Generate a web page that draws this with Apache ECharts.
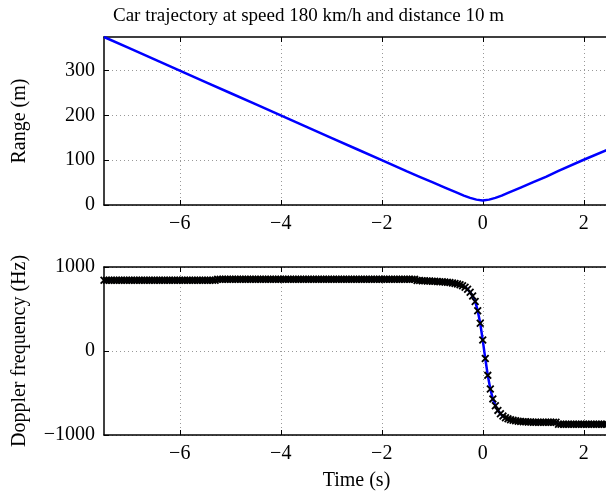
<!DOCTYPE html>
<html>
<head>
<meta charset="utf-8">
<script src="https://cdn.jsdelivr.net/npm/echarts@6/dist/echarts.min.js"></script>
<style>
html,body{margin:0;padding:0;background:#fff;}
#c{width:606px;height:495px;}
</style>
</head>
<body>
<div id="c"></div>
<script>
// ---- data ----
const titleText = 'Car trajectory at speed 180 km/h and distance 10 m';
const xTicks = [-6, -4, -2, 0, 2];
const rangeTicks = [0, 100, 200, 300];
const dopplerTicks = [-1000, 0, 1000];

const rangeTime = [-7.5,-7,-6.5,-6,-5.5,-5,-4.5,-4,-3.5,-3,-2.5,-2,-1.5,-1.25,-1,-0.75,-0.5,-0.375,-0.25,-0.125,0,0.125,0.25,0.375,0.5,0.75,1,1.25,1.5,2,2.5];
const rangeValues = [375,350,325,300,275,250,225,200,175,150,125,100,75,63,51,39,27,21,16,12,10,12,16,21,27,39,51,63,76,101,125];

const dopplerTime = [
-7.50,-7.45,-7.40,-7.35,-7.30,-7.25,-7.20,-7.15,-7.10,-7.05,
-7.00,-6.95,-6.90,-6.85,-6.80,-6.75,-6.70,-6.65,-6.60,-6.55,
-6.50,-6.45,-6.40,-6.35,-6.30,-6.25,-6.20,-6.15,-6.10,-6.05,
-6.00,-5.95,-5.90,-5.85,-5.80,-5.75,-5.70,-5.65,-5.60,-5.55,
-5.50,-5.45,-5.40,-5.35,-5.30,-5.25,-5.20,-5.15,-5.10,-5.05,
-5.00,-4.95,-4.90,-4.85,-4.80,-4.75,-4.70,-4.65,-4.60,-4.55,
-4.50,-4.45,-4.40,-4.35,-4.30,-4.25,-4.20,-4.15,-4.10,-4.05,
-4.00,-3.95,-3.90,-3.85,-3.80,-3.75,-3.70,-3.65,-3.60,-3.55,
-3.50,-3.45,-3.40,-3.35,-3.30,-3.25,-3.20,-3.15,-3.10,-3.05,
-3.00,-2.95,-2.90,-2.85,-2.80,-2.75,-2.70,-2.65,-2.60,-2.55,
-2.50,-2.45,-2.40,-2.35,-2.30,-2.25,-2.20,-2.15,-2.10,-2.05,
-2.00,-1.95,-1.90,-1.85,-1.80,-1.75,-1.70,-1.65,-1.60,-1.55,
-1.50,-1.45,-1.40,-1.35,-1.30,-1.25,-1.20,-1.15,-1.10,-1.05,
-1.00,-0.95,-0.90,-0.85,-0.80,-0.75,-0.70,-0.65,-0.60,-0.55,
-0.50,-0.45,-0.40,-0.35,-0.30,-0.25,-0.20,-0.15,-0.10,-0.05,
0.00,0.05,0.10,0.15,0.20,0.25,0.30,0.35,0.40,0.45,
0.50,0.55,0.60,0.65,0.70,0.75,0.80,0.85,0.90,0.95,
1.00,1.05,1.10,1.15,1.20,1.25,1.30,1.35,1.40,1.45,
1.50,1.55,1.60,1.65,1.70,1.75,1.80,1.85,1.90,1.95,
2.00,2.05,2.10,2.15,2.20,2.25,2.30,2.35,2.40,2.45,
2.50];
const dopplerValues = [
842,842,842,842,842,842,842,842,842,842,
842,842,842,842,842,842,842,842,842,842,
842,842,842,842,842,842,842,842,842,842,
842,842,842,842,842,842,842,842,842,842,
842,842,842,842,842,853,853,853,853,853,
853,853,853,853,853,853,853,853,853,853,
853,853,853,853,853,853,853,853,853,853,
853,853,853,853,853,853,853,853,853,853,
853,853,853,853,853,853,853,853,853,853,
853,853,853,853,853,853,853,853,853,853,
853,853,853,853,853,853,853,853,853,853,
853,853,853,853,853,853,853,853,853,853,
853,853,853,853,840,838,836,835,833,832,
831,829,827,825,823,820,817,814,810,805,
798,789,777,760,735,700,655,590,480,330,
130,-90,-290,-453,-570,-651,-707,-746,-775,-794,
-808,-818,-825,-830,-835,-838,-841,-843,-845,-846,
-848,-848,-848,-848,-848,-848,-848,-848,-848,-848,
-872,-872,-872,-872,-872,-872,-872,-872,-872,-872,
-872,-872,-872,-872,-872,-872,-872,-872,-872,-872,
-872];

// ---- chart ----
const FONT = 'Liberation Serif';
const FS = 20;
const fmt = v => String(v).replace('-', '\u2212');
const gridLine = {show: true, lineStyle: {color: '#999', type: [1, 3], width: 1}};
const crossPath = 'path://M0,1.6L1.6,0L10,8.4L8.4,10Z M8.4,0L10,1.6L1.6,10L0,8.4Z';

function xAxes(gridIndex, showName) {
  return [{
    type: 'value', gridIndex, position: 'bottom', min: -7.5, max: 2.5,
    axisLine: {show: true, onZero: false, lineStyle: {color: '#000', width: 1.5}},
    axisTick: {show: true, inside: true, length: 5, customValues: xTicks, lineStyle: {color: '#000', width: 1}},
    axisLabel: {show: true, customValues: xTicks, formatter: fmt, color: '#000', fontFamily: FONT, fontSize: FS, margin: 9},
    splitLine: gridLine,
    name: showName ? 'Time (s)' : '', nameLocation: 'middle', nameGap: 36,
    nameTextStyle: {color: '#000', fontFamily: FONT, fontSize: FS}
  }, {
    type: 'value', gridIndex, position: 'top', min: -7.5, max: 2.5,
    axisLine: {show: true, onZero: false, lineStyle: {color: '#000', width: 1.5}},
    axisTick: {show: true, inside: true, length: 5, customValues: xTicks, lineStyle: {color: '#000', width: 1}},
    axisLabel: {show: false}, splitLine: {show: false}
  }];
}

function yAxis(gridIndex, min, max, ticks, name, gap) {
  return {
    type: 'value', gridIndex, min, max,
    axisLine: {show: true, onZero: false, lineStyle: {color: '#000', width: 1.5}},
    axisTick: {show: true, inside: true, length: 5, customValues: ticks, lineStyle: {color: '#000', width: 1}},
    axisLabel: {show: true, customValues: ticks, formatter: fmt, color: '#000', fontFamily: FONT, fontSize: FS, margin: 9},
    splitLine: gridLine,
    name, nameLocation: 'middle', nameGap: gap, nameRotate: 90,
    nameTextStyle: {color: '#000', fontFamily: FONT, fontSize: FS}
  };
}

const chart = echarts.init(document.getElementById('c'), null, {renderer: 'canvas'});
chart.setOption({
  animation: false,
  backgroundColor: '#fff',
  title: {
    text: titleText, left: 108, top: 2,
    textStyle: {color: '#000', fontFamily: FONT, fontSize: 19, fontWeight: 'normal'}
  },
  grid: [
    {left: 104, top: 37, width: 505, height: 168, containLabel: false, outerBoundsMode: 'none'},
    {left: 104, top: 267, width: 505, height: 168, containLabel: false, outerBoundsMode: 'none'}
  ],
  xAxis: [...xAxes(0, false), ...xAxes(1, true)],
  yAxis: [
    yAxis(0, 0, 375, rangeTicks, 'Range (m)', 74),
    yAxis(1, -1000, 1000, dopplerTicks, 'Doppler frequency (Hz)', 74)
  ],
  series: [
    {
      type: 'line', xAxisIndex: 0, yAxisIndex: 0,
      data: rangeTime.map((t, i) => [t, rangeValues[i]]),
      showSymbol: false, smooth: false,
      lineStyle: {color: '#0000ff', width: 2.5}
    },
    {
      type: 'line', xAxisIndex: 2, yAxisIndex: 1,
      data: dopplerTime.map((t, i) => [t, dopplerValues[i]]),
      symbol: crossPath, symbolSize: 8, showSymbol: true, showAllSymbol: true,
      lineStyle: {color: '#0000ff', width: 2.5},
      itemStyle: {color: '#000'}
    }
  ]
});
</script>
</body>
</html>
